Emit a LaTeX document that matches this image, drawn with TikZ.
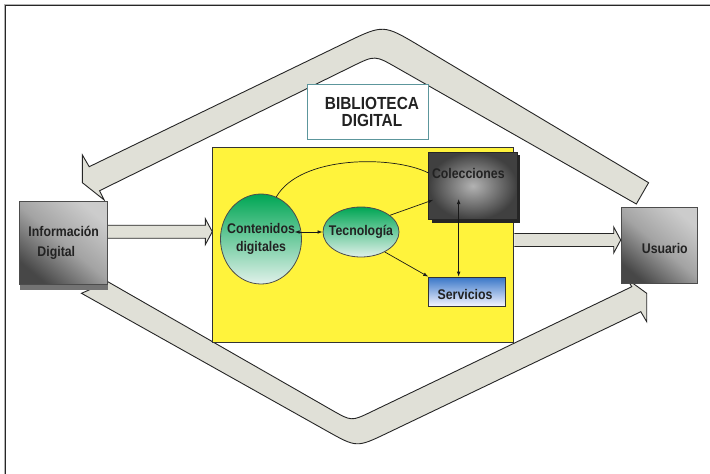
\documentclass[tikz,border=0pt]{standalone}
\usepackage{fontspec}
\newfontfamily\diagfont{Liberation Sans}[FakeStretch=0.88]
\usetikzlibrary{shapes.geometric,arrows.meta,shadows,calc}

\definecolor{bandgray}{RGB}{224,224,215}
\definecolor{libyellow}{RGB}{255,243,60}
\definecolor{libgreen}{RGB}{0,166,84}
\definecolor{palegreen}{RGB}{224,241,234}
\definecolor{tealline}{RGB}{92,150,156}
\definecolor{servblue}{RGB}{56,118,200}
\definecolor{inkgray}{RGB}{34,34,34}

\tikzset{
	band/.style={fill=bandgray, draw=black!85, line width=0.9pt, line join=miter},
	graybox/.style={draw=black!70, line width=0.9pt, top color=black!20, bottom color=black!72,
		middle color=black!36, shading angle=-40, inner sep=0pt},
	bubble/.style={ellipse, draw=black!70, line width=0.8pt, top color=libgreen,
		bottom color=palegreen, inner xsep=-6pt, inner ysep=0pt},
	lbl/.style={font=\diagfont\bfseries\fontsize{14}{18}\selectfont, text=inkgray},
	conn/.style={line width=0.7pt, black!90},
	>={Latex[length=5pt,width=3.6pt]},
}

\begin{document}
\begin{tikzpicture}[x=1pt, y=-1pt]
		\useasboundingbox (0,0) rectangle (710,474);
		\fill[white] (0,0) rectangle (710,474);
		\draw[black!30, line width=0.8pt] (4.2,474) -- (4.2,4.2) -- (710,4.2);
		\draw[black!85, line width=1.2pt] (5.8,474) -- (5.8,5.8) -- (710,5.8);

		% the two bent bands round the library
		\draw[band] (648.6,182.7) -- (419.5,45.8) .. controls (383.4,24.3) .. (345.6,42.6)
			-- (89.2,166.7) -- (82.4,155) -- (82.4,182.7) -- (104.2,200) -- (99.6,190.7)
			-- (352.5,66.2) .. controls (374.9,55.2) .. (396.6,67.6) -- (636.3,204) -- cycle;
		\draw[band] (107.8,281.7) -- (332.4,410.4) .. controls (351.5,421.3) .. (371.3,411.8)
			-- (631.8,286.7) -- (627,279) -- (646.7,293.3) -- (646.7,321.7) -- (640.8,311.7)
			-- (387.4,433) .. controls (356.7,447.7) .. (327.1,431.1) -- (81.5,293.3) -- cycle;

		\node[graybox, drop shadow={shadow xshift=0pt, shadow yshift=-5.5pt, fill=black!55, opacity=1},
			minimum width=88pt, minimum height=83pt, anchor=north west, lbl, align=left] (info)
			at (19.3,201) {Información\\[2pt]\hspace*{9pt}Digital};
		\node[graybox, minimum width=76.3pt, minimum height=76.6pt, anchor=north west, lbl,
			text height=16pt] (user) at (620.7,206.7) {\hspace*{11pt}Usuario};

		\node[draw=black!80, line width=1pt, fill=libyellow, minimum width=301pt, minimum height=195pt,
			anchor=north west] (lib) at (212.3,146.7) {};
		\node[draw=tealline, line width=0.9pt, fill=white, minimum width=121.6pt, minimum height=55pt,
			anchor=north west, font=\diagfont\bfseries\fontsize{17.5}{17.3}\selectfont, text=inkgray,
			align=center] (title) at (306.7,84.3) {\hspace*{8pt}BIBLIOTECA\\\hspace*{8pt}DIGITAL};

		\node[bubble, lbl, align=center, minimum width=81pt, minimum height=90pt] (cont)
			at (261,239) {Contenidos\\digitales};
		\node[bubble, lbl, minimum width=76pt, minimum height=50pt] (tec) at (361,232) {Tecnología};
		\node[draw=black!85, line width=0.8pt, shading=radial, inner color=black!30, outer color=black!75,
			drop shadow={shadow xshift=3pt, shadow yshift=-3pt, fill=black!85, opacity=1},
			minimum width=79pt, minimum height=67.5pt, anchor=north west, lbl, text height=10.3pt,
			text depth=25pt] (coll) at (428.3,151.7) {Colecciones\hspace*{9pt}};
		\node[draw=black!80, line width=0.8pt, top color=servblue, bottom color=blue!4!white,
			minimum width=76.7pt, minimum height=29pt, anchor=north west, lbl, text height=15.6pt]
			(serv) at (428.3,276.7) {Servicios\hspace*{4pt}};

		% block arrows in and out
		\coordinate (inS) at (info.east |- 0,231.7);
		\coordinate (inT) at (lib.west |- 0,231.7);
		\draw[band] ($(inS)+(0,-6.5)$) -- ($(inT)+(-7,-6.5)$) -- ($(inT)+(-7,-13)$) -- (inT)
			-- ($(inT)+(-7,13)$) -- ($(inT)+(-7,6.5)$) -- ($(inS)+(0,6.5)$);
		\coordinate (outS) at (lib.east |- 0,240);
		\coordinate (outT) at (user.west |- 0,240);
		\draw[band] ($(outS)+(0,-6.5)$) -- ($(outT)+(-7,-6.5)$) -- ($(outT)+(-7,-13)$) -- (outT)
			-- ($(outT)+(-7,13)$) -- ($(outT)+(-7,6.5)$) -- ($(outS)+(0,6.5)$);

		\draw[conn, <->] (tec.west) -- ++(-28,0);
		\draw[conn] (cont.70) .. controls +(24,-42) and +(-35,-17.5) .. ([yshift=13pt]coll.west);
		\draw[conn, ->] (tec.30) -- ([xshift=5pt, yshift=-14pt]coll.west);
		\draw[conn, ->] (tec.-40) -- (serv.north west);
		\draw[conn, <->] ([xshift=-8.4pt]serv.north) -- ++(0,-77.7);
		\end{tikzpicture}
\end{document}
